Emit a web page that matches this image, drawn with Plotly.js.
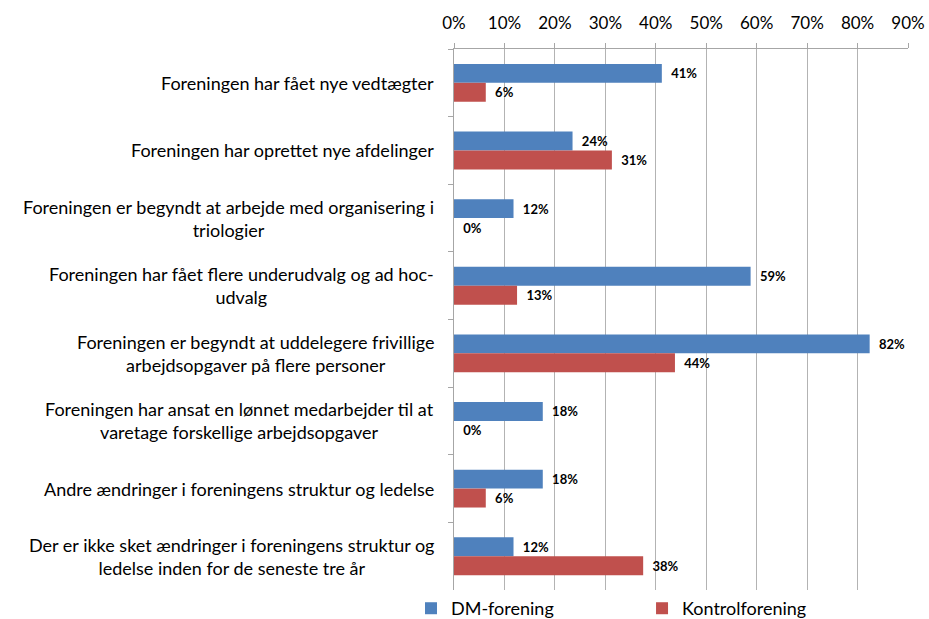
<!DOCTYPE html>
<html>
<head>
<meta charset="utf-8">
<script src="https://cdn.plot.ly/plotly-3.0.1.min.js"></script>
<style>html,body{margin:0;padding:0;background:#fff;}#chart{width:929px;height:619px;}</style>
</head>
<body>
<div id="chart"></div>
<script>
const categories = [
  "Foreningen har fået nye vedtægter",
  "Foreningen har oprettet nye afdelinger",
  "Foreningen er begyndt at arbejde med organisering i<br>triologier",
  "Foreningen har fået flere underudvalg og ad hoc-<br>udvalg",
  "Foreningen er begyndt at uddelegere frivillige<br>arbejdsopgaver på flere personer",
  "Foreningen har ansat en lønnet medarbejder til at<br>varetage forskellige arbejdsopgaver",
  "Andre ændringer i foreningens struktur og ledelse",
  "Der er ikke sket ændringer i foreningens struktur og<br>ledelse inden for de seneste tre år"
];
const seriesNames = ["DM-forening", "Kontrolforening"];
const dmValues = [41.2, 23.5, 11.8, 58.8, 82.4, 17.6, 17.6, 11.8];
const kontrolValues = [6.3, 31.3, 0, 12.5, 43.8, 0, 6.3, 37.5];
const dmLabels = ["41%", "24%", "12%", "59%", "82%", "18%", "18%", "12%"];
const kontrolLabels = ["6%", "31%", "0%", "13%", "44%", "0%", "6%", "38%"];
const tickVals = [0, 10, 20, 30, 40, 50, 60, 70, 80, 90];
const tickText = ["0%", "10%", "20%", "30%", "40%", "50%", "60%", "70%", "80%", "90%"];

const FONT = "Lato, 'Open Sans', sans-serif";
const pad = "\u00a0\u00a0";

const traces = [
  {
    type: "bar", orientation: "h", name: seriesNames[0], legend: "legend",
    y: categories, x: dmValues,
    text: dmLabels.map(t => pad + t), textposition: "outside", cliponaxis: false,
    textfont: {family: FONT, size: 13, color: "#000", weight: "bold"},
    marker: {color: "#4F81BD"}, hoverinfo: "skip"
  },
  {
    type: "bar", orientation: "h", name: seriesNames[1], legend: "legend2",
    y: categories, x: kontrolValues,
    text: kontrolLabels.map(t => pad + t), textposition: "outside", cliponaxis: false,
    textfont: {family: FONT, size: 13, color: "#000", weight: "bold"},
    marker: {color: "#C0504D"}, hoverinfo: "skip"
  }
];

const annotations = categories.map(c => ({
  xref: "paper", yref: "y", x: 0, y: c, xshift: -18,
  xanchor: "right", yanchor: "middle", align: "center",
  text: c, showarrow: false,
  font: {family: FONT, size: 18, color: "#000"}
}));

const legendBase = {
  orientation: "h", xref: "container", yref: "container",
  xanchor: "left", y: 0.0468, yanchor: "top",
  font: {family: FONT, size: 18, color: "#000"}, itemwidth: 30,
  bgcolor: "rgba(0,0,0,0)"
};

const layout = {
  width: 929, height: 619,
  margin: {l: 454, r: 21, t: 49, b: 0, pad: 0},
  paper_bgcolor: "#fff", plot_bgcolor: "#fff",
  barmode: "group", bargap: 0.44, bargroupgap: 0,
  font: {family: FONT, size: 16, color: "#000"},
  xaxis: {
    side: "top", range: [0, 90], tickvals: tickVals, ticktext: tickText,
    showgrid: true, gridcolor: "#b3b3b3", gridwidth: 1,
    showline: true, linecolor: "#a6a6a6", linewidth: 1,
    ticks: "outside", ticklen: 5, tickcolor: "#a6a6a6",
    ticklabelstandoff: 7,
    zeroline: false, fixedrange: true,
    tickfont: {family: FONT, size: 17, color: "#000"}
  },
  yaxis: {
    type: "category", autorange: "reversed",
    showticklabels: false, showline: true, linecolor: "#a6a6a6", linewidth: 1,
    ticks: "outside", ticklen: 5, tickcolor: "#a6a6a6", tickson: "boundaries",
    showgrid: false, zeroline: false, fixedrange: true
  },
  showlegend: true,
  legend: Object.assign({}, legendBase, {x: 0.4424}),
  legend2: Object.assign({}, legendBase, {x: 0.6911}),
  annotations: annotations
};

Plotly.newPlot("chart", traces, layout, {displayModeBar: false, staticPlot: true});
</script>
</body>
</html>
